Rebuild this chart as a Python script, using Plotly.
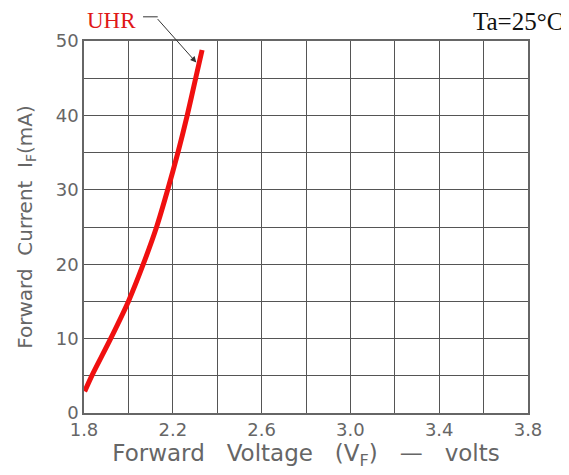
import plotly.graph_objects as go

# Data
voltage = [1.803, 1.835, 1.920, 2.000, 2.067, 2.127, 2.177, 2.223, 2.265, 2.303, 2.332]
current = [2.9, 5.0, 10.0, 15.0, 20.0, 25.0, 30.0, 35.0, 40.0, 45.0, 48.8]

x_grid = [1.8, 2.0, 2.2, 2.4, 2.6, 2.8, 3.0, 3.2, 3.4, 3.6, 3.8]
x_labels = ["1.8", "", "2.2", "", "2.6", "", "3.0", "", "3.4", "", "3.8"]
y_grid = [0, 5, 10, 15, 20, 25, 30, 35, 40, 45, 50]
y_labels = ["0", "", "10", "", "20", "", "30", "", "40", "", "50"]

series_name = "UHR"
condition = "Ta=25°C"

fig = go.Figure()
fig.add_trace(go.Scatter(
    x=voltage, y=current, mode="lines", name=series_name,
    line=dict(color="#f01010", width=5, shape="spline", smoothing=0.8),
    showlegend=False,
))

tick_font = dict(family="DejaVu Sans", size=18, color="#666666")
title_font = dict(family="DejaVu Sans", size=23, color="#666666")

fig.update_xaxes(
    range=[1.8, 3.8], tickvals=x_grid, ticktext=x_labels,
    showgrid=True, gridcolor="#555555", gridwidth=1.3,
    showline=True, linecolor="#666666", linewidth=1.5, mirror=True,
    zeroline=False, ticks="", tickfont=tick_font,
    title=dict(text="Forward&nbsp;&nbsp;&nbsp;Voltage&nbsp;&nbsp;&nbsp;(V<sub>F</sub>)&nbsp;&nbsp;&nbsp;—&nbsp;&nbsp;&nbsp;volts",
               font=title_font, standoff=6),
)
fig.update_yaxes(
    range=[0, 50], tickvals=y_grid, ticktext=y_labels,
    showgrid=True, gridcolor="#555555", gridwidth=1.3,
    showline=True, linecolor="#666666", linewidth=1.5, mirror=True,
    zeroline=False, ticks="", tickfont=tick_font,
    title=dict(text="Forward&nbsp;&nbsp;Current&nbsp;&nbsp;I<sub>F</sub>(mA)",
               font=dict(family="DejaVu Sans", size=20, color="#666666"), standoff=18),
)

fig.add_annotation(
    x=2.306, y=47.1, xref="x", yref="y",
    ax=-40, ay=-45, axref="pixel", ayref="pixel",
    text="", showarrow=True, arrowhead=2, arrowsize=1.2, arrowwidth=1, arrowcolor="#333333",
)
fig.add_shape(type="line", xref="paper", yref="paper",
              x0=0.133, x1=0.166, y0=1.065, y1=1.065,
              line=dict(color="#333333", width=1))
fig.add_annotation(
    x=0.0045, y=1.054, xref="paper", yref="paper", xanchor="left", yanchor="middle",
    text=series_name, showarrow=False, borderpad=0,
    font=dict(family="Liberation Serif", size=23, color="#e01818"),
)
fig.add_annotation(
    x=1.08, y=1.052, xref="paper", yref="paper", xanchor="right", yanchor="middle",
    text=condition, showarrow=False, borderpad=0,
    font=dict(family="Liberation Serif", size=25, color="#111111"),
)

fig.update_layout(
    width=561, height=467,
    margin=dict(l=76, r=41, t=33, b=62),
    paper_bgcolor="white", plot_bgcolor="white",
)

fig.write_html("out.html")
